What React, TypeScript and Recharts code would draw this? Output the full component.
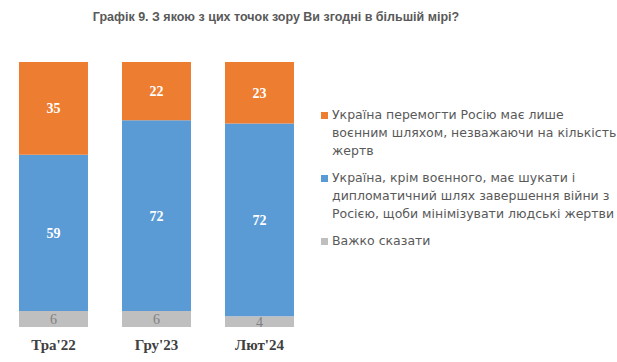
import { Bar, BarChart, LabelList, Legend, XAxis, YAxis } from 'recharts'

// Три хвилі опитування, 100% stacked
const waves = ['Тра\'22', 'Гру\'23', 'Лют\'24']
const militaryOnly = [35, 22, 23]
const diplomacyToo = [59, 72, 72]
const hardToSay = [6, 6, 4]

// line breaks follow the original legend
const SERIES = [
  { key: 'military', color: '#ED7D31', name: 'Україна перемогти Росію має лише\nвоєнним шляхом, незважаючи на кількість\nжертв' },
  { key: 'diplomacy', color: '#5B9BD5', name: 'Україна, крім воєнного, має шукати і\nдипломатичний шлях завершення війни з\nРосією, щоби мінімізувати людські жертви' },
  { key: 'unsure', color: '#BFBFBF', name: 'Важко сказати' },
]

const rows = waves.map((wave, i) => ({
  wave,
  military: militaryOnly[i],
  diplomacy: diplomacyToo[i],
  unsure: hardToSay[i],
}))

const SERIF = '"Liberation Serif", "DejaVu Serif", serif'
const WHITE_LABEL = { fill: '#fff', fontSize: 14, fontWeight: 700, fontFamily: SERIF }

function LegendBox() {
  return (
    <div style={{ fontFamily: '"DejaVu Sans", sans-serif', fontSize: 12.5, lineHeight: '18px', color: '#595959' }}>
      {SERIES.map((s) => (
        <div key={s.key} style={{ position: 'relative', paddingLeft: 15, marginBottom: 9, whiteSpace: 'pre' }}>
          <span style={{
            position: 'absolute', left: 4, top: 6, width: 7, height: 7, background: s.color,
          }} />
          {s.name}
        </div>
      ))}
    </div>
  )
}

export default function App() {
  return (
    <div style={{ position: 'absolute', left: 0, top: 0, width: 617, height: 362, background: '#fff', overflow: 'hidden' }}>
      <div style={{
        position: 'absolute', left: 0, top: 10, width: 552, textAlign: 'center',
        fontFamily: '"Liberation Sans", Arial, sans-serif', fontWeight: 700, fontSize: 12.5, color: '#595959',
      }}>
        Графік 9. З якою з цих точок зору Ви згодні в більшій мірі?
      </div>
      <BarChart width={617} height={362} data={rows} stackOffset="expand"
                margin={{ top: 62, right: 306, bottom: 5, left: 2 }} barCategoryGap="16.5%">
        <XAxis dataKey="wave" axisLine={false} tickLine={false} height={30} tickMargin={6}
               tick={{ fill: '#404040', fontSize: 15, fontWeight: 700, fontFamily: SERIF }} />
        <YAxis hide domain={[0, 1]} />
        <Legend layout="vertical" align="center" verticalAlign="middle" content={<LegendBox />}
                wrapperStyle={{ left: 317, top: 106, width: 300, height: 'auto' }} />
        <Bar dataKey="unsure" stackId="a" fill="#BFBFBF" isAnimationActive={false}>
          <LabelList dataKey="unsure" position="center"
                     style={{ fill: '#7F7F7F', fontSize: 14, fontFamily: SERIF }} />
        </Bar>
        <Bar dataKey="diplomacy" stackId="a" fill="#5B9BD5" isAnimationActive={false}>
          <LabelList dataKey="diplomacy" position="center" style={WHITE_LABEL} />
        </Bar>
        <Bar dataKey="military" stackId="a" fill="#ED7D31" isAnimationActive={false}>
          <LabelList dataKey="military" position="center" style={WHITE_LABEL} />
        </Bar>
      </BarChart>
    </div>
  )
}
